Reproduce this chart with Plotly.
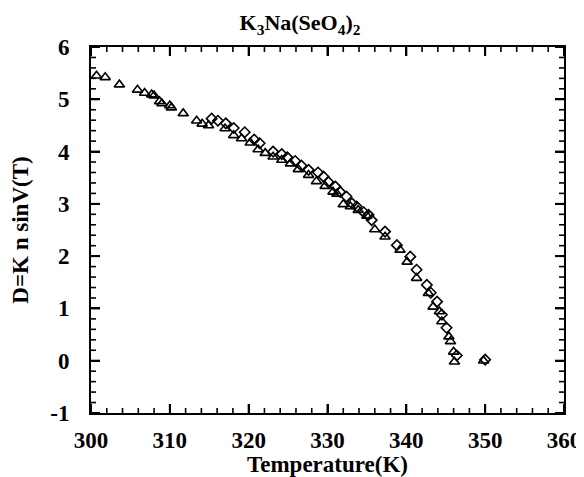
import plotly.graph_objects as go

# Triangle series (open triangles)
tri_T = [300.7, 301.8, 303.6, 305.9, 306.8, 307.7, 308.0, 308.7, 309.0, 310.0, 310.2,
         311.7, 313.4, 314.1, 314.9, 317.0, 318.1, 319.1, 320.2, 321.2, 322.1, 323.1,
         324.2, 325.3, 326.3, 327.6, 328.6, 329.7, 330.7, 331.2, 332.0, 332.9, 333.9,
         335.0, 336.0, 337.3, 339.2, 340.1, 341.3, 342.8, 343.4, 344.2, 344.5, 345.4,
         345.6, 346.0, 346.1, 349.8]
tri_D = [5.45, 5.42, 5.28, 5.18, 5.12, 5.09, 5.07, 4.96, 4.92, 4.88, 4.84,
         4.73, 4.59, 4.53, 4.50, 4.44, 4.31, 4.25, 4.17, 4.04, 3.97, 3.90,
         3.84, 3.77, 3.66, 3.55, 3.43, 3.34, 3.23, 3.19, 2.99, 2.95, 2.88,
         2.77, 2.51, 2.37, 2.12, 1.89, 1.58, 1.29, 1.03, 0.94, 0.75, 0.46,
         0.37, 0.17, -0.02, 0.0]

# Diamond series (open diamonds)
dia_T = [315.3, 316.1, 317.1, 318.1, 319.5, 320.7, 321.4, 323.1, 324.2, 324.9, 325.9,
         326.7, 327.6, 328.8, 329.5, 330.1, 331.0, 331.6, 332.4, 333.1, 333.7, 334.6,
         335.2, 335.6, 337.3, 338.8, 340.5, 341.3, 342.6, 343.1, 343.9, 344.5, 345.1,
         346.4, 350.0]
dia_D = [4.63, 4.59, 4.54, 4.45, 4.37, 4.23, 4.16, 4.00, 3.95, 3.89, 3.82,
         3.73, 3.65, 3.60, 3.52, 3.42, 3.33, 3.23, 3.14, 3.01, 2.95, 2.84,
         2.79, 2.69, 2.47, 2.21, 1.99, 1.74, 1.45, 1.30, 1.13, 0.88, 0.63,
         0.10, 0.02]

x_range = [300, 360]
y_range = [-1, 6]
x_ticks = [300, 310, 320, 330, 340, 350, 360]
y_ticks = [-1, 0, 1, 2, 3, 4, 5, 6]
x_minor_step = 2
y_minor_step = 0.2

FONT = "Liberation Serif"

# figure geometry (page body has an 8px default margin)
W, H = 576, 469
M = dict(l=83, r=20, t=39, b=64)
plot_w = W - M["l"] - M["r"]
plot_h = H - M["t"] - M["b"]
MAJOR_PX, MINOR_PX = 9, 5

x_minor = [v for v in range(x_range[0], x_range[1] + 1, x_minor_step) if v not in x_ticks]
n_y_minor = int(round((y_range[1] - y_range[0]) / y_minor_step))
y_minor = [round(y_range[0] + i * y_minor_step, 2) for i in range(n_y_minor + 1)]
y_minor = [v for v in y_minor if v not in y_ticks]

fig = go.Figure()
fig.add_trace(go.Scatter(
    x=tri_T, y=tri_D, mode="markers",
    marker=dict(symbol="triangle-up-open", size=9, color="black", line=dict(width=1.6)),
    showlegend=False))
fig.add_trace(go.Scatter(
    x=dia_T, y=dia_D, mode="markers",
    marker=dict(symbol="diamond-open", size=8, color="black", line=dict(width=1.6)),
    showlegend=False))


def tick_segments(vals, px, vertical):
    """Inward tick segments on both mirrored sides, lengths converted from px via axis scale."""
    xs, ys = [], []
    if vertical:  # ticks on bottom/top axes
        d = px * (y_range[1] - y_range[0]) / plot_h
        for v in vals:
            xs += [v, v, None, v, v, None]
            ys += [y_range[0], y_range[0] + d, None, y_range[1], y_range[1] - d, None]
    else:  # ticks on left/right axes
        d = px * (x_range[1] - x_range[0]) / plot_w
        for v in vals:
            xs += [x_range[0], x_range[0] + d, None, x_range[1], x_range[1] - d, None]
            ys += [v, v, None, v, v, None]
    return xs, ys


for vals, px, vert, wdt in [(x_ticks, MAJOR_PX, True, 2), (x_minor, MINOR_PX, True, 1.6),
                            (y_ticks, MAJOR_PX, False, 2), (y_minor, MINOR_PX, False, 1.6)]:
    tx, ty = tick_segments(vals, px, vert)
    fig.add_trace(go.Scatter(x=tx, y=ty, mode="lines", line=dict(color="black", width=wdt),
                             hoverinfo="skip", showlegend=False, connectgaps=False))

axis_common = dict(
    showline=True, linecolor="black", linewidth=2, mirror="allticks",
    ticks="inside", ticklen=MAJOR_PX, tickwidth=2, tickcolor="black",
    showticklabels=True, automargin=False,
    showgrid=False, zeroline=False,
    tickfont=dict(family=FONT, size=23, color="black"),
)

fig.update_xaxes(
    range=x_range, tickmode="array", tickvals=x_ticks,
    ticktext=["<b>%d</b>" % v for v in x_ticks],
    title=dict(text="<b>Temperature(K)</b>", font=dict(family=FONT, size=23, color="black"),
               standoff=0),
    ticklabelstandoff=5,
    **axis_common)
fig.update_yaxes(
    range=y_range, tickmode="array", tickvals=y_ticks,
    ticktext=["<b>%d</b>" % v for v in y_ticks],
    title=dict(text="<b>D=K n sinV(T)</b>", font=dict(family=FONT, size=23, color="black"),
               standoff=15),
    ticklabelstandoff=15,
    **axis_common)

fig.update_layout(
    template="simple_white",
    width=W, height=H,
    margin=dict(l=M["l"], r=M["r"], t=M["t"], b=M["b"], autoexpand=False),
    paper_bgcolor="white", plot_bgcolor="white",
    title=dict(text="<b>K<sub>3</sub>Na(SeO<sub>4</sub>)<sub>2</sub></b>",
               x=0.507, xanchor="center", y=0.985, yanchor="top", automargin=False,
               font=dict(family=FONT, size=22, color="black")),
)

fig.write_html("out.html")
